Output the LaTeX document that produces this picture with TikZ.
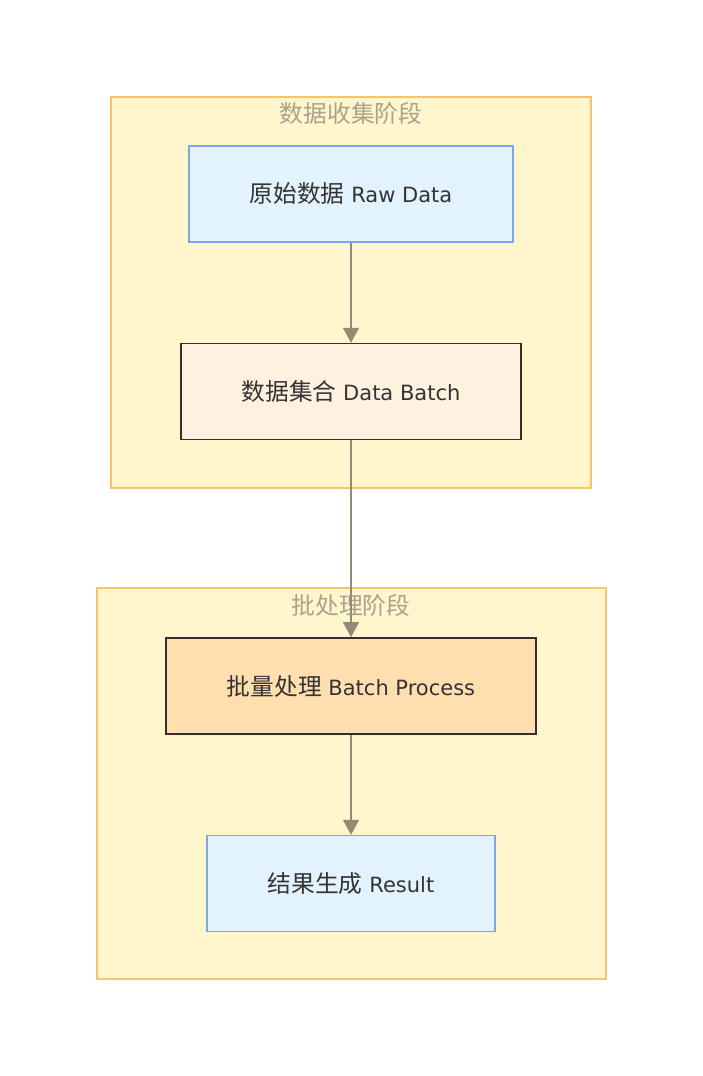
\documentclass[tikz,border=0pt]{standalone}
\usepackage{fontspec}
\setmainfont{DejaVu Sans}
\newfontfamily\cjk[Scale=1.13]{Noto Sans CJK SC}
\usepackage{tikz}
\usetikzlibrary{arrows.meta,positioning}

\definecolor{grpfill}{RGB}{255,246,206}
\definecolor{grpline}{RGB}{244,196,112}
\definecolor{grptext}{RGB}{170,162,138}
\definecolor{bluefill}{RGB}{227,243,253}
\definecolor{blueline}{RGB}{124,166,228}
\definecolor{creamfill}{RGB}{255,241,223}
\definecolor{orangefill}{RGB}{255,223,176}
\definecolor{darkline}{RGB}{51,48,44}
\definecolor{arrowgray}{RGB}{145,140,118}
\definecolor{txt}{RGB}{51,51,51}

\begin{document}
\begin{tikzpicture}[x=1pt, y=-1pt,
  group/.style={draw=grpline, fill=grpfill, line width=1.2pt},
  grouptitle/.style={text=grptext, font=\fontsize{21}{24}\selectfont\cjk},
  box/.style={draw, line width=1.6pt, minimum height=96pt, inner sep=0pt, text=txt, font=\fontsize{21}{24}\selectfont},
  bluebox/.style={box, draw=blueline, fill=bluefill},
  arr/.style={-{Triangle[width=16pt,length=15pt]}, draw=arrowgray, fill=arrowgray, line width=1.3pt}
]
\useasboundingbox (0,0) rectangle (702,1076);
% stage boxes
\draw[group] (111,97) rectangle (591,488);
\node[grouptitle] (t1) at (351,113) {数据收集阶段};
\draw[group] (97,588) rectangle (606,979);
\node[grouptitle] (t2) at (351,605) {批处理阶段};
% steps
\node[bluebox, minimum width=324pt] (raw) at (351,194) {{\cjk 原始数据} Raw Data};
\node[box, draw=darkline, fill=creamfill, minimum width=340pt, below=100pt of raw] (batch) {{\cjk 数据集合} Data Batch};
\node[box, draw=darkline, fill=orangefill, minimum width=370pt] (proc) at (351,686) {{\cjk 批量处理} Batch Process};
\node[bluebox, minimum width=288pt, below=100pt of proc] (res) {{\cjk 结果生成} Result};
\draw[arr] (raw) -- (batch);
\draw[arr] (batch) -- (proc);
\draw[arr] (proc) -- (res);
\end{tikzpicture}
\end{document}
